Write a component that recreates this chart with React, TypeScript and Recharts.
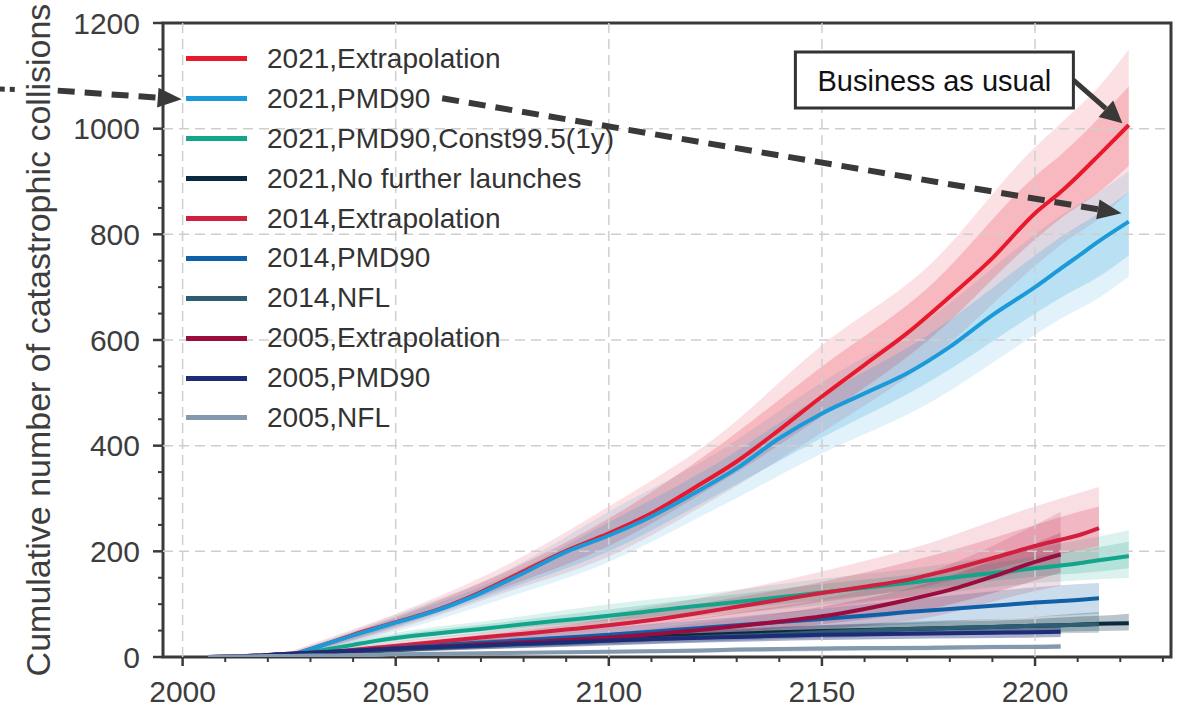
import React from "react";
import {
	ComposedChart,
	Line,
	Area,
	XAxis,
	YAxis,
	ReferenceLine,
	ReferenceArea,
	Legend,
} from "recharts";

const font = "'Liberation Sans', Arial, sans-serif";
const axisColor = "#3a3a3a";
const arrowColor = "#3b3838";

// sample years for the mean lines
const years = [
	2006, 2010, 2015, 2020, 2022, 2025, 2030, 2035, 2040, 2045, 2050, 2060, 2070,
	2080, 2090, 2100, 2110, 2120, 2130, 2140, 2150, 2160, 2170, 2180, 2190, 2200,
	2206, 2210, 2215, 2222,
];

const ext2021 = [null, null, null, null, 0, 3, 15, 28, 42, 54, 66, 90, 123, 162, 201, 234, 272, 320, 370, 430, 493, 553, 613, 682, 755, 840, 880, 910, 950, 1007];
const pmd2021 = [null, null, null, null, 0, 3, 15, 28, 41, 53, 65, 89, 121, 159, 199, 230, 266, 310, 357, 414, 461, 499, 537, 587, 647, 700, 735, 758, 787, 824];
const const2021 = [null, null, null, null, 0, 2, 9, 16, 23, 30, 36, 45, 53, 62, 70, 78, 87, 96, 104, 113, 122, 131, 140, 150, 159, 168, 173, 177, 183, 191];
const nfl2021 = [null, null, null, null, 0, 2, 6, 9, 12, 15, 18, 22, 26, 29, 32, 35, 38, 41, 44, 47, 49, 51, 53, 55, 57, 59, 60, 61, 63, 64];
const ext2014 = [null, null, 0, 1, 2, 3, 6, 9, 13, 17, 21, 29, 37, 44, 52, 60, 70, 82, 95, 108, 121, 133, 146, 165, 187, 210, 222, 230, 244, null];
const pmd2014 = [null, null, 0, 1, 2, 3, 5, 8, 11, 14, 17, 22, 27, 32, 37, 42, 48, 54, 60, 66, 72, 78, 85, 91, 97, 103, 106, 108, 111, null];
const nfl2014 = [null, null, 0, 1, 2, 3, 5, 7, 9, 11, 13, 17, 21, 24, 27, 31, 34, 37, 40, 43, 47, 50, 53, 55, 57, 59, 60, 61, 62, null];
const ext2005 = [0, 1, 2, 4, 5, 6, 8, 10, 12, 14, 16, 20, 24, 28, 32, 37, 43, 50, 58, 67, 77, 91, 108, 127, 152, 180, 194, null, null, null];
const pmd2005 = [0, 1, 2, 4, 5, 6, 8, 10, 12, 14, 16, 19, 22, 25, 28, 31, 34, 36, 38, 40, 42, 43, 44, 45, 46, 47, 48, null, null, null];
const nfl2005 = [0, 1, 1, 2, 2, 2, 3, 3, 4, 4, 5, 6, 7, 8, 9, 10, 11, 12, 14, 15, 16, 17, 17, 18, 19, 19, 20, null, null, null];

// spread of the monte carlo runs: outer (min / max) and the dense core
const bandYears = [2006, 2015, 2022, 2030, 2050, 2075, 2100, 2125, 2150, 2175, 2200, 2206, 2215, 2222];

const ext2021Lo = [null, null, 0, 10, 52, 120, 190, 300, 425, 560, 740, 780, 830, 880];
const ext2021Hi = [null, null, 0, 24, 82, 170, 285, 415, 590, 740, 965, 1010, 1080, 1150];
const ext2021CoreLo = [null, null, 0, 12, 58, 130, 210, 325, 455, 600, 790, 830, 880, 930];
const ext2021CoreHi = [null, null, 0, 20, 76, 158, 262, 395, 550, 700, 910, 950, 1020, 1080];
const pmd2021Lo = [null, null, 0, 9, 48, 110, 180, 280, 385, 480, 610, 640, 680, 720];
const pmd2021Hi = [null, null, 0, 22, 80, 160, 275, 385, 520, 640, 800, 835, 880, 920];
const pmd2021CoreLo = [null, null, 0, 11, 56, 125, 200, 305, 415, 520, 650, 680, 720, 760];
const pmd2021CoreHi = [null, null, 0, 19, 74, 150, 255, 365, 495, 610, 760, 795, 840, 880];
const const2021Lo = [null, null, 0, 6, 28, 46, 62, 80, 98, 118, 140, 143, 147, 150];
const const2021Hi = [null, null, 0, 12, 46, 72, 100, 122, 148, 172, 205, 215, 228, 240];
const const2021CoreLo = [null, null, 0, 7, 31, 52, 68, 88, 108, 130, 152, 156, 162, 168];
const const2021CoreHi = [null, null, 0, 11, 42, 66, 90, 114, 138, 160, 190, 198, 208, 218];
const nfl2021Lo = [null, null, 0, 3, 12, 20, 27, 34, 39, 43, 47, 48, 49, 50];
const nfl2021Hi = [null, null, 0, 9, 24, 34, 43, 52, 60, 66, 72, 75, 78, 82];
const ext2014Lo = [null, 0, 1, 3, 14, 28, 44, 68, 92, 120, 165, 172, 185, null];
const ext2014Hi = [null, 0, 3, 9, 30, 52, 82, 118, 162, 215, 285, 300, 322, null];
const ext2014CoreLo = [null, 0, 1, 4, 17, 34, 52, 76, 104, 135, 185, 195, 210, null];
const ext2014CoreHi = [null, 0, 2, 8, 26, 46, 72, 106, 142, 190, 250, 265, 285, null];
const pmd2014Lo = [null, 0, 1, 3, 11, 20, 30, 42, 54, 64, 76, 78, 82, null];
const pmd2014Hi = [null, 0, 3, 8, 25, 38, 56, 72, 92, 112, 132, 136, 140, null];
const nfl2014Lo = [null, 0, 1, 2, 8, 16, 23, 30, 36, 41, 44, 45, 46, null];
const nfl2014Hi = [null, 0, 3, 8, 19, 30, 41, 50, 60, 68, 76, 80, 85, null];
const ext2005Lo = [0, 1, 3, 5, 10, 16, 25, 36, 52, 75, 125, 135, null, null];
const ext2005Hi = [0, 3, 7, 12, 23, 35, 52, 78, 110, 160, 250, 275, null, null];
const ext2005CoreLo = [0, 1, 4, 6, 13, 21, 30, 44, 62, 90, 145, 160, null, null];
const ext2005CoreHi = [0, 2, 6, 10, 20, 30, 45, 68, 95, 140, 215, 235, null, null];
const pmd2005Lo = [0, 1, 3, 5, 10, 16, 22, 28, 32, 35, 37, 38, null, null];
const pmd2005Hi = [0, 3, 7, 11, 22, 30, 40, 46, 52, 56, 58, 59, null, null];
const nfl2005Lo = [0, 0, 1, 2, 3, 5, 7, 9, 11, 13, 15, 15, null, null];
const nfl2005Hi = [0, 2, 3, 4, 7, 10, 13, 17, 20, 22, 24, 25, null, null];

const xTicks = [2000, 2010, 2020, 2030, 2040, 2050, 2060, 2070, 2080, 2090, 2100, 2110, 2120, 2130, 2140, 2150, 2160, 2170, 2180, 2190, 2200, 2210, 2220, 2230];
const yTicks = [0, 50, 100, 150, 200, 250, 300, 350, 400, 450, 500, 550, 600, 650, 700, 750, 800, 850, 900, 950, 1000, 1050, 1100, 1150, 1200];
const xGrid = [2000, 2050, 2100, 2150, 2200];
const yGrid = [200, 400, 600, 800, 1000];
const xDomain = [1995.4, 2231.9];

// annotation anchors, in data units
const leftDots = [{ x: 1957.1, y: 1075 }, { x: 1961.0, y: 1074 }];
const leftArrow = [{ x: 1970.7, y: 1072 }, { x: 1999.8, y: 1055.6 }];
const midArrow = [{ x: 2060.9, y: 1057.5 }, { x: 2220.3, y: 839.8 }];
const bauArrow = [{ x: 2209.0, y: 1092.1 }, { x: 2220.5, y: 1010.2 }];

const series = [
	{ name: "2021,Extrapolation", color: "#e8192c", mean: ext2021, lo: ext2021Lo, hi: ext2021Hi, cLo: ext2021CoreLo, cHi: ext2021CoreHi, op: 0.13 },
	{ name: "2021,PMD90", color: "#1a9ad8", mean: pmd2021, lo: pmd2021Lo, hi: pmd2021Hi, cLo: pmd2021CoreLo, cHi: pmd2021CoreHi, op: 0.13 },
	{ name: "2021,PMD90,Const99.5(1y)", color: "#13a58c", mean: const2021, lo: const2021Lo, hi: const2021Hi, cLo: const2021CoreLo, cHi: const2021CoreHi, op: 0.15 },
	{ name: "2021,No further launches", color: "#0b2a40", mean: nfl2021, lo: nfl2021Lo, hi: nfl2021Hi, op: 0.28 },
	{ name: "2014,Extrapolation", color: "#d11f3f", mean: ext2014, lo: ext2014Lo, hi: ext2014Hi, cLo: ext2014CoreLo, cHi: ext2014CoreHi, op: 0.14 },
	{ name: "2014,PMD90", color: "#1060a8", mean: pmd2014, lo: pmd2014Lo, hi: pmd2014Hi, op: 0.22 },
	{ name: "2014,NFL", color: "#2c5d72", mean: nfl2014, lo: nfl2014Lo, hi: nfl2014Hi, op: 0.28 },
	{ name: "2005,Extrapolation", color: "#9a0c3e", mean: ext2005, lo: ext2005Lo, hi: ext2005Hi, cLo: ext2005CoreLo, cHi: ext2005CoreHi, op: 0.14 },
	{ name: "2005,PMD90", color: "#1e2c78", mean: pmd2005, lo: pmd2005Lo, hi: pmd2005Hi, op: 0.38 },
	{ name: "2005,NFL", color: "#8399ae", mean: nfl2005, lo: nfl2005Lo, hi: nfl2005Hi, op: 0.4 },
];

const lineData = (vals: (number | null)[]) =>
	years.map((year, i) => ({ year, v: vals[i] })).filter((d) => d.v != null);

const bandData = (lo: (number | null)[], hi: (number | null)[]) =>
	bandYears
		.map((year, i) => ({ year, range: [lo[i], hi[i]] }))
		.filter((d) => d.range[0] != null);

const XTick = (props: any) => {
	const { x, y, payload } = props;
	const major = payload.value % 50 === 0;
	return (
		<g>
			<line x1={x} x2={x} y1={y} y2={y + (major ? 9 : 5)} stroke={axisColor} strokeWidth={major ? 2.5 : 2} />
			{major && (
				<text x={x} y={y + 44.5} textAnchor="middle" fontSize={30} fontFamily={font} fill="#3d3d3d">
					{payload.value}
				</text>
			)}
		</g>
	);
};

const YTick = (props: any) => {
	const { x, y, payload } = props;
	const major = payload.value % 200 === 0;
	return (
		<g>
			<line x1={x - (major ? 10 : 5)} x2={x} y1={y} y2={y} stroke={axisColor} strokeWidth={major ? 2.5 : 2} />
			{major && (
				<text x={x - 23} y={y + 10.7} textAnchor="end" fontSize={30} fontFamily={font} fill="#3d3d3d">
					{payload.value}
				</text>
			)}
		</g>
	);
};

const YLabel = (props: any) => {
	const vb = props.viewBox || { x: 0, y: 23, width: 163, height: 634 };
	const cx = 49.5;
	const cy = vb.y + vb.height / 2;
	return (
		<text x={cx} y={cy} transform={`rotate(-90 ${cx} ${cy})`} textAnchor="middle" fontSize={34} fontFamily={font} fill="#3d3d3d">
			Cumulative number of catastrophic collisions
		</text>
	);
};

const arrowHead = (x1: number, y1: number, x2: number, y2: number, len: number, hw: number) => {
	const d = Math.hypot(x2 - x1, y2 - y1) || 1;
	const ux = (x2 - x1) / d;
	const uy = (y2 - y1) / d;
	const bx = x2 - ux * len;
	const by = y2 - uy * len;
	return {
		bx,
		by,
		points: `${x2},${y2} ${bx - uy * hw},${by + ux * hw} ${bx + uy * hw},${by - ux * hw}`,
	};
};

const DashedArrow = (props: any) => {
	const { x1, y1, x2, y2 } = props;
	const h = arrowHead(x1, y1, x2, y2, 24, 10);
	return (
		<g>
			<line x1={x1} y1={y1} x2={h.bx} y2={h.by} stroke={arrowColor} strokeWidth={6} strokeDasharray="17 10" />
			<polygon points={h.points} fill={arrowColor} />
		</g>
	);
};

const Dots = (props: any) => {
	const { x1, y1, x2, y2 } = props;
	return <line x1={x1} y1={y1} x2={x2} y2={y2} stroke={arrowColor} strokeWidth={5} strokeDasharray="5 5" />;
};

const BauArrow = (props: any) => {
	const { x1, y1, x2, y2 } = props;
	const h = arrowHead(x1, y1, x2, y2, 22, 11);
	return (
		<g>
			<line x1={x1} y1={y1} x2={h.bx} y2={h.by} stroke={arrowColor} strokeWidth={5} />
			<polygon points={h.points} fill={arrowColor} />
			<rect x={x1 - 278} y={y1 - 28} width={278} height={56} fill="#fff" stroke="#333" strokeWidth={3} />
			<text x={x1 - 139} y={y1 + 10.5} textAnchor="middle" fontSize={29} fontFamily={font} fill="#111">
				Business as usual
			</text>
		</g>
	);
};

const LegendBox = () => (
	<div style={{ fontFamily: font, fontSize: 28, color: "#333" }}>
		{series.map((s) => (
			<div key={s.name} style={{ display: "flex", alignItems: "center", height: 39.9 }}>
				<span style={{ display: "inline-block", width: 61, height: 5, background: s.color, marginRight: 20 }} />
				<span style={{ lineHeight: 1, whiteSpace: "nowrap" }}>{s.name}</span>
			</div>
		))}
	</div>
);

export default function App() {
	return (
		<div style={{ position: "absolute", left: 0, top: 0, width: 1187, height: 707, background: "#fff" }}>
			<ComposedChart width={1187} height={707} margin={{ top: 23, right: 16, bottom: 0, left: 0 }}>
				<XAxis
					dataKey="year"
					type="number"
					domain={xDomain}
					allowDataOverflow
					ticks={xTicks}
					interval={0}
					height={50}
					tickSize={0}
					tickMargin={0}
					tickLine={false}
					axisLine={false}
					tick={(p: any) => <XTick {...p} />}
				/>
				<YAxis
					type="number"
					domain={[0, 1200]}
					allowDataOverflow
					ticks={yTicks}
					interval={0}
					width={163}
					tickSize={0}
					tickMargin={0}
					tickLine={false}
					axisLine={false}
					tick={(p: any) => <YTick {...p} />}
					label={{ content: (p: any) => <YLabel {...p} /> }}
				/>
				{xGrid.map((x) => (
					<ReferenceLine key={`gx${x}`} x={x} stroke="#cfcfcf" strokeWidth={1.5} strokeDasharray="10 6" />
				))}
				{yGrid.map((y) => (
					<ReferenceLine key={`gy${y}`} y={y} stroke="#cfcfcf" strokeWidth={1.5} strokeDasharray="10 6" />
				))}
				{series.map((s) => (
					<Area
						key={`band-${s.name}`}
						data={bandData(s.lo, s.hi)}
						dataKey="range"
						type="monotone"
						stroke="none"
						fill={s.color}
						fillOpacity={s.op}
						isAnimationActive={false}
						activeDot={false}
					/>
				))}
				{series
					.filter((s) => s.cLo)
					.map((s) => (
						<Area
							key={`core-${s.name}`}
							data={bandData(s.cLo as (number | null)[], s.cHi as (number | null)[])}
							dataKey="range"
							type="monotone"
							stroke="none"
							fill={s.color}
							fillOpacity={0.2}
							isAnimationActive={false}
							activeDot={false}
						/>
					))}
				{series.map((s) => (
					<Line
						key={`line-${s.name}`}
						data={lineData(s.mean)}
						dataKey="v"
						type="monotone"
						stroke={s.color}
						strokeWidth={4}
						dot={false}
						activeDot={false}
						isAnimationActive={false}
					/>
				))}
				<ReferenceArea
					x1={xDomain[0]}
					x2={xDomain[1]}
					y1={0}
					y2={1200}
					fill="none"
					fillOpacity={0}
					stroke={axisColor}
					strokeWidth={3}
					ifOverflow="visible"
				/>
				<ReferenceLine segment={leftDots} ifOverflow="visible" shape={(p: any) => <Dots {...p} />} />
				<ReferenceLine segment={leftArrow} ifOverflow="visible" shape={(p: any) => <DashedArrow {...p} />} />
				<ReferenceLine segment={midArrow} ifOverflow="visible" shape={(p: any) => <DashedArrow {...p} />} />
				<ReferenceLine segment={bauArrow} ifOverflow="visible" shape={(p: any) => <BauArrow {...p} />} />
				<Legend
					layout="vertical"
					align="center"
					verticalAlign="middle"
					content={() => <LegendBox />}
					wrapperStyle={{ left: 186, top: 39, width: 440, height: 400 }}
				/>
			</ComposedChart>
		</div>
	);
}
